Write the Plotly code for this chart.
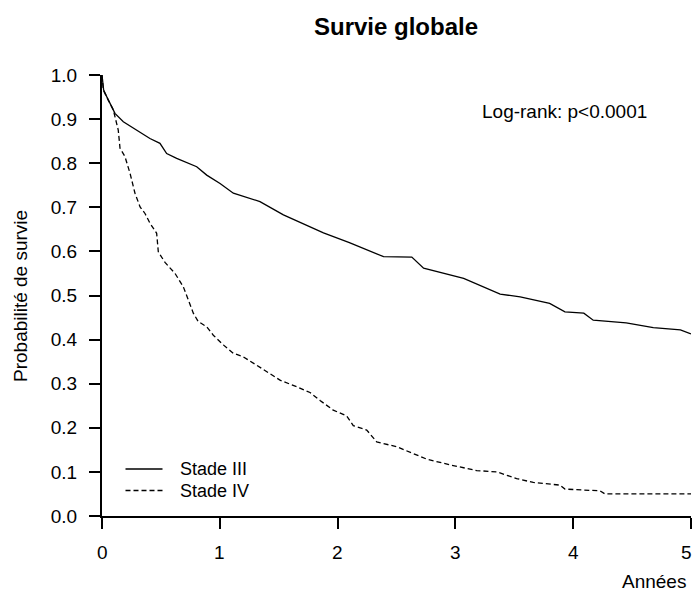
import plotly.graph_objects as go

# Kaplan-Meier estimates (years, survival probability)
t_stade3 = [0, 0.014, 0.040, 0.068, 0.110, 0.181, 0.294, 0.407, 0.492, 0.549, 0.634,
            0.804, 0.889, 1.002, 1.115, 1.256, 1.341, 1.54, 1.88, 2.10, 2.39, 2.63,
            2.73, 3.07, 3.38, 3.55, 3.80, 3.93, 4.09, 4.17, 4.45, 4.68, 4.91, 5.0]
s_stade3 = [1.0, 0.966, 0.951, 0.936, 0.913, 0.894, 0.875, 0.856, 0.845, 0.822, 0.811,
            0.792, 0.773, 0.754, 0.732, 0.720, 0.713, 0.683, 0.642, 0.620, 0.588, 0.587,
            0.562, 0.539, 0.503, 0.497, 0.482, 0.463, 0.460, 0.444, 0.438, 0.427, 0.422, 0.413]

t_stade4 = [0, 0.011, 0.053, 0.096, 0.138, 0.153, 0.195, 0.238, 0.280, 0.323, 0.365,
            0.407, 0.464, 0.478, 0.535, 0.620, 0.690, 0.733, 0.775, 0.817, 0.889, 0.945,
            1.030, 1.115, 1.199, 1.313, 1.398, 1.511, 1.653, 1.766, 1.851, 1.963, 2.077,
            2.133, 2.247, 2.332, 2.502, 2.643, 2.756, 2.954, 3.181, 3.351, 3.520, 3.661,
            3.888, 3.930, 4.228, 4.270, 5.0]
s_stade4 = [1.0, 0.966, 0.943, 0.921, 0.875, 0.834, 0.815, 0.777, 0.732, 0.701, 0.686,
            0.664, 0.641, 0.599, 0.575, 0.550, 0.520, 0.488, 0.460, 0.441, 0.429, 0.410,
            0.388, 0.369, 0.361, 0.342, 0.327, 0.308, 0.293, 0.280, 0.262, 0.240, 0.227,
            0.205, 0.195, 0.168, 0.157, 0.142, 0.129, 0.116, 0.103, 0.100, 0.085, 0.076,
            0.070, 0.061, 0.057, 0.050, 0.050]

series_names = ["Stade III", "Stade IV"]
series_dash = ["solid", "5px,3px"]

x_ticks = [0, 1, 2, 3, 4, 5]
x_tick_labels = ["0", "1", "2", "3", "4", "5"]
y_ticks = [0.0, 0.1, 0.2, 0.3, 0.4, 0.5, 0.6, 0.7, 0.8, 0.9, 1.0]

FONT = "Liberation Sans, Arial, sans-serif"
TXT = 19
W, H = 693, 592
L, R, T, B = 102, 2, 75, 76
PW, PH = W - L - R, H - T - B


def px_x(p):  # pixel -> paper x
    return (p - L) / PW


def px_y(p):  # pixel -> paper y
    return (H - B - p) / PH


fig = go.Figure()
fig.add_trace(go.Scatter(x=t_stade3, y=s_stade3, mode="lines", name=series_names[0],
                         line=dict(color="black", width=1.3, dash=series_dash[0])))
fig.add_trace(go.Scatter(x=t_stade4, y=s_stade4, mode="lines", name=series_names[1],
                         line=dict(color="black", width=1.3, dash=series_dash[1])))

axis_common = dict(showgrid=False, zeroline=False, showline=True, linecolor="black",
                   linewidth=2, ticks="outside", tickwidth=2, ticklen=11,
                   tickcolor="black",
                   tickfont=dict(family=FONT, size=TXT, color="black"))

# x tick labels sit far below the axis (R style), so they are placed as
# annotations on the x scale; the axis itself draws the tick marks.
fig.update_xaxes(range=[0, 5], tickvals=x_ticks, showticklabels=False, **axis_common)
fig.update_yaxes(range=[0, 1], tickvals=y_ticks, tickformat=".1f",
                 ticklabelstandoff=8, **axis_common)

# legend key (R-style, drawn inside the plot)
legend_rows = [469, 490.5]
shapes = []
annotations = []
for name, dash, row in zip(series_names, series_dash, legend_rows):
    shapes.append(dict(type="line", xref="paper", yref="paper",
                       x0=px_x(125.5), x1=px_x(162.5), y0=px_y(row), y1=px_y(row),
                       line=dict(color="black", width=1.3, dash=dash)))
    annotations.append(dict(text=name, xref="paper", yref="paper",
                            x=px_x(178), y=px_y(row), xanchor="left", yanchor="middle",
                            showarrow=False, font=dict(family=FONT, size=18, color="black")))

for i, (tv, tl) in enumerate(zip(x_ticks, x_tick_labels)):
    annotations.append(dict(text=tl, xref="x", yref="paper", x=tv, y=px_y(552),
                            xanchor="center", yanchor="middle", showarrow=False,
                            xshift=-5 if i == len(x_ticks) - 1 else 0,
                            font=dict(family=FONT, size=TXT, color="black")))

annotations += [
    dict(text="Log-rank: p<0.0001", xref="paper", yref="paper",
         x=px_x(564), y=px_y(111), xanchor="center", yanchor="middle",
         showarrow=False, font=dict(family=FONT, size=TXT, color="black")),
    dict(text="Années", xref="paper", yref="paper",
         x=px_x(654), y=px_y(581), xanchor="center", yanchor="middle",
         showarrow=False, font=dict(family=FONT, size=TXT, color="black")),
    dict(text="Probabilité de survie", xref="paper", yref="paper",
         x=px_x(20), y=px_y(296), xanchor="center", yanchor="middle",
         textangle=-90, showarrow=False, font=dict(family=FONT, size=TXT, color="black")),
]

fig.update_layout(
    width=W, height=H,
    margin=dict(l=L, r=R, t=T, b=B, autoexpand=False),
    paper_bgcolor="white", plot_bgcolor="white",
    font=dict(family=FONT, color="black"),
    title=dict(text="<b>Survie globale</b>", x=396 / W, xanchor="center",
               y=1 - 27 / H, yanchor="middle",
               font=dict(family=FONT, size=24, color="black")),
    showlegend=False,
    shapes=shapes,
    annotations=annotations,
)

fig.write_html(
    "out.html",
    config={"displayModeBar": False},
    post_script=("document.body.style.margin='0';"
                 "document.body.style.overflow='hidden';"
                 "document.documentElement.style.overflow='hidden';"),
)
